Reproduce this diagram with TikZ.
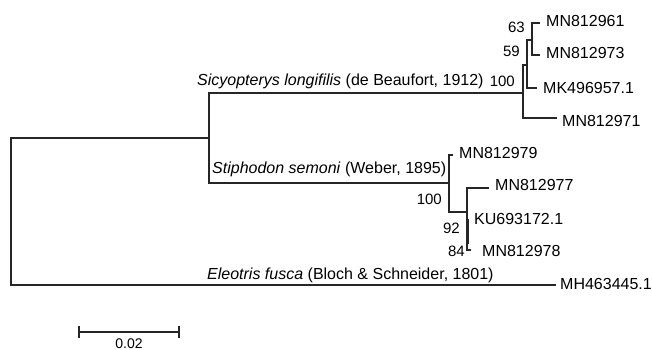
\documentclass[tikz,border=0pt]{standalone}
\usepackage{fontspec}
\setmainfont{Liberation Sans}
\begin{document}
\begin{tikzpicture}[x=1pt,y=-1pt,
  br/.style={line width=1.2pt, draw=black!85, line join=miter},
  lbl/.style={anchor=base west, inner sep=0pt, font=\fontsize{16}{18}\selectfont},
  bsl/.style={anchor=base east, inner sep=0pt, font=\fontsize{15}{17}\selectfont},
  sp/.style={anchor=base west, inner sep=0pt, font=\fontsize{16}{18}\selectfont}]
\useasboundingbox (0,0) rectangle (652,350);
% internal nodes
\coordinate (r1) at (11,138); \coordinate (r2) at (11,285);
\coordinate (s1) at (209,93); \coordinate (s2) at (209,183);
\coordinate (a1) at (523,65); \coordinate (a2) at (523,118);
\coordinate (b1) at (527,40); \coordinate (b2) at (527,88);
\coordinate (c1) at (532,23); \coordinate (c2) at (532,55);
\coordinate (d1) at (449,155); \coordinate (d2) at (449,212);
\coordinate (e1) at (467,188); \coordinate (e2) at (467,250);
\coordinate (f1) at (468.6,219); \coordinate (f2) at (468.6,244);
% tips
\coordinate (t61) at (540,23); \coordinate (t73) at (540,55);
\coordinate (t57) at (537,88); \coordinate (t71) at (557,118);
\coordinate (t79) at (453,155); \coordinate (t77) at (489,188);
\coordinate (t78) at (471,250); \coordinate (tmh) at (556,285);
% branches
\draw[br] (tmh) -- (r2) -- (r1) -- (r1 -| s1);
\draw[br] (s1 -| a1) -- (s1) -- (s2) -- (s2 -| d1);
\draw[br] (t71) -- (a2) -- (a1) -- (a1 -| b1);
\draw[br] (t57) -- (b2) -- (b1) -- (b1 -| c1);
\draw[br] (t61) -- (c1) -- (c2) -- (t73);
\draw[br] (t79) -- (d1) -- (d2) -- (d2 -| e1);
\draw[br] (t77) -- (e1) -- (e2) -- (t78);
\draw[br] (f1) -- (f2);
% leaf labels
\node[lbl] (l61) at (546,27) {MN812961};
\node[lbl] (l73) at (546,59) {MN812973};
\node[lbl] (l57) at (543,94) {MK496957.1};
\node[lbl] (l71) at (562,126) {MN812971};
\node[lbl] (l79) at (459,158) {MN812979};
\node[lbl] (l77) at (495,190) {MN812977};
\node[lbl] (lku) at (474,224) {KU693172.1};
\node[lbl] (l78) at (482,256) {MN812978};
\node[lbl] (lmh) at (560,289) {MH463445.1};
% bootstrap
\node[bsl] (b63) at (525,33) {63};
\node[bsl] (b59) at (520,57) {59};
\node[bsl] (b100a) at (515,87) {100};
\node[bsl] (b100b) at (442,204) {100};
\node[bsl] (b92) at (460,233) {92};
\node[bsl] (b84) at (465,256) {84};
% species
\node[sp] (sicy) at (197,85) {\textit{Sicyopterys longifilis} (de Beaufort, 1912)};
\node[sp] (stip) at (212,173) {\textit{Stiphodon semoni} (Weber, 1895)};
\node[sp] (eleo) at (207,279) {\textit{Eleotris fusca} (Bloch \& Schneider, 1801)};
% scale bar
\coordinate (sb1) at (79,332); \coordinate (sb2) at (179,332);
\draw[br] (sb1) -- (sb2);
\draw[br] ([yshift=-6pt]sb1) -- ([yshift=6pt]sb1);
\draw[br] ([yshift=-6pt]sb2) -- ([yshift=6pt]sb2);
\node[anchor=base, inner sep=0pt, font=\fontsize{14}{16}\selectfont] (sbl) at (129,348) {0.02};
\end{tikzpicture}
\end{document}
